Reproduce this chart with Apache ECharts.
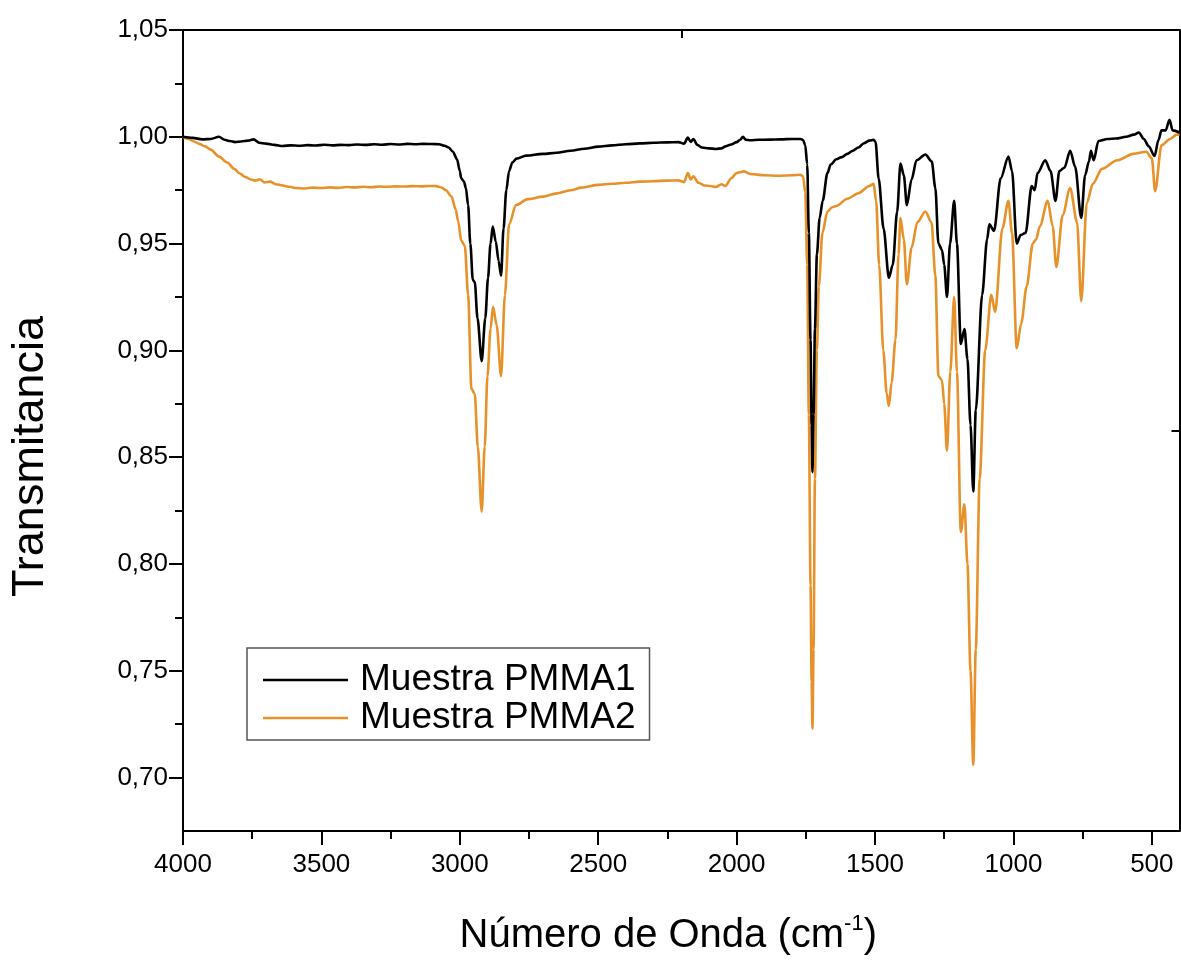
<!DOCTYPE html>
<html>
<head>
<meta charset="utf-8">
<script src="https://cdn.jsdelivr.net/npm/echarts@6/dist/echarts.min.js"></script>
<style>
  html, body { margin: 0; padding: 0; background: #ffffff; }
  #chart { width: 1181px; height: 964px; }
</style>
</head>
<body>
<div id="chart"></div>
<script>
// FTIR spectra of two PMMA samples (wavenumber in cm^-1, transmittance)
const seriesNames = ['Muestra PMMA1', 'Muestra PMMA2'];

const pmma1Wn = [4000,3965,3930,3900,3870,3850,3830,3812,3790,3765,3745,3725,3700,3670,3640,3610,3580,3550,3520,3490,3460,3430,3400,3370,3340,3310,3280,3250,3220,3190,3160,3130,3100,3075,3055,3040,3025,3010,3000,2995,2985,2978,2970,2962,2953,2946,2936,2921,2908,2898,2889,2881,2870,2860,2851,2842,2832,2822,2810,2795,2760,2700,2650,2600,2550,2500,2450,2400,2350,2300,2250,2210,2190,2176,2166,2156,2142,2125,2100,2075,2055,2040,2020,2000,1987,1977,1967,1950,1920,1880,1840,1800,1770,1760,1752,1745,1739,1733,1729,1726,1722,1717,1710,1700,1689,1672,1660,1640,1620,1600,1580,1560,1540,1520,1505,1498,1487,1469,1450,1436,1420,1408,1396,1385,1368,1350,1318,1295,1282,1271,1258,1250,1240,1229,1214,1204,1190,1177,1166,1155,1145,1136,1113,1095,1087,1070,1046,1018,1005,988,974,956,934,923,913,885,866,848,834,816,795,777,755,741,727,720,710,693,660,630,593,565,547,529,511,490,476,465,450,436,425,400];
const pmma1T = [1.0000,0.9995,0.9988,0.9990,1.0000,0.9986,0.9980,0.9975,0.9978,0.9982,0.9988,0.9972,0.9968,0.9962,0.9957,0.9960,0.9958,0.9961,0.9959,0.9963,0.9960,0.9962,0.9961,0.9964,0.9962,0.9965,0.9963,0.9966,0.9964,0.9967,0.9965,0.9967,0.9966,0.9965,0.9958,0.9950,0.9930,0.9895,0.9840,0.9806,0.9790,0.9760,0.9680,0.9500,0.9330,0.9320,0.9150,0.8950,0.9150,0.9340,0.9500,0.9580,0.9510,0.9420,0.9350,0.9570,0.9750,0.9840,0.9880,0.9898,0.9912,0.9920,0.9925,0.9935,0.9944,0.9954,0.9960,0.9965,0.9969,0.9972,0.9974,0.9975,0.9968,0.9996,0.9976,0.9990,0.9962,0.9950,0.9946,0.9943,0.9946,0.9955,0.9964,0.9975,0.9986,1.0000,0.9986,0.9984,0.9986,0.9987,0.9988,0.9990,0.9990,0.9985,0.9960,0.9870,0.9550,0.9050,0.8650,0.8430,0.8700,0.9100,0.9450,0.9620,0.9700,0.9830,0.9870,0.9895,0.9905,0.9920,0.9935,0.9950,0.9970,0.9982,0.9986,0.9975,0.9806,0.9570,0.9340,0.9400,0.9650,0.9875,0.9820,0.9680,0.9800,0.9890,0.9917,0.9884,0.9760,0.9500,0.9470,0.9400,0.9250,0.9500,0.9700,0.9500,0.9030,0.9100,0.8960,0.8650,0.8340,0.8720,0.9260,0.9520,0.9590,0.9560,0.9806,0.9907,0.9840,0.9500,0.9540,0.9550,0.9770,0.9750,0.9830,0.9890,0.9840,0.9700,0.9840,0.9855,0.9935,0.9860,0.9620,0.9820,0.9885,0.9935,0.9890,0.9980,0.9990,0.9992,1.0000,1.0010,1.0020,0.9990,0.9955,0.9910,0.9985,1.0030,1.0030,1.0080,1.0030,1.0020];

const pmma2Wn = [4000,3980,3960,3940,3920,3900,3870,3840,3815,3795,3775,3755,3740,3722,3705,3685,3665,3640,3615,3590,3560,3530,3500,3470,3440,3410,3380,3350,3320,3290,3260,3230,3200,3170,3140,3110,3085,3065,3050,3030,3015,3006,2995,2982,2970,2958,2946,2935,2921,2910,2900,2889,2880,2867,2851,2837,2822,2797,2754,2700,2650,2600,2560,2500,2450,2400,2350,2300,2250,2210,2190,2176,2166,2156,2138,2115,2095,2075,2055,2040,2020,2000,1985,1975,1950,1900,1850,1800,1770,1760,1752,1745,1739,1733,1729,1726,1722,1717,1710,1703,1690,1672,1655,1640,1600,1560,1520,1505,1496,1485,1470,1458,1450,1440,1426,1415,1408,1396,1385,1368,1347,1318,1296,1282,1271,1258,1250,1240,1228,1214,1204,1190,1177,1166,1155,1145,1136,1122,1102,1080,1066,1040,1018,1005,988,972,952,930,918,905,876,858,845,822,795,770,755,735,713,680,625,567,520,500,488,465,434,410,400];
const pmma2T = [1.0000,0.9990,0.9978,0.9966,0.9955,0.9940,0.9907,0.9880,0.9850,0.9828,0.9812,0.9800,0.9795,0.9801,0.9786,0.9790,0.9778,0.9772,0.9766,0.9760,0.9758,0.9762,0.9760,0.9763,0.9761,0.9765,0.9763,0.9766,0.9764,0.9767,0.9766,0.9768,0.9767,0.9769,0.9768,0.9770,0.9769,0.9762,0.9750,0.9720,0.9660,0.9606,0.9514,0.9490,0.9260,0.8820,0.8796,0.8550,0.8245,0.8550,0.8880,0.9100,0.9204,0.9120,0.8880,0.9260,0.9590,0.9680,0.9708,0.9720,0.9735,0.9750,0.9762,0.9775,0.9780,0.9785,0.9790,0.9792,0.9795,0.9796,0.9788,0.9830,0.9800,0.9815,0.9785,0.9772,0.9770,0.9765,0.9778,0.9770,0.9805,0.9830,0.9835,0.9838,0.9826,0.9820,0.9818,0.9820,0.9822,0.9815,0.9740,0.9400,0.8700,0.7900,0.7450,0.7230,0.7600,0.8400,0.9000,0.9300,0.9550,0.9650,0.9670,0.9676,0.9710,0.9736,0.9770,0.9780,0.9700,0.9400,0.9000,0.8800,0.8740,0.8850,0.9050,0.9450,0.9620,0.9520,0.9310,0.9480,0.9600,0.9650,0.9600,0.9350,0.8880,0.8860,0.8750,0.8530,0.8900,0.9250,0.8900,0.8150,0.8280,0.8000,0.7500,0.7060,0.7600,0.8400,0.9000,0.9260,0.9180,0.9570,0.9700,0.9550,0.9010,0.9125,0.9300,0.9500,0.9520,0.9580,0.9700,0.9580,0.9390,0.9634,0.9760,0.9600,0.9230,0.9690,0.9780,0.9850,0.9890,0.9920,0.9930,0.9900,0.9745,0.9960,0.9990,1.0010,1.0010];

// Axis ticks
const xMajorTicks = [4000, 3500, 3000, 2500, 2000, 1500, 1000, 500];
const xMinorTicks = [3750, 3250, 2750, 2250, 1750, 1250, 750];
const yMajorTicks = [0.70, 0.75, 0.80, 0.85, 0.90, 0.95, 1.00, 1.05];
const yMinorTicks = [0.725, 0.775, 0.825, 0.875, 0.925, 0.975, 1.025];
const topTicks = [2200];
const rightTicks = [0.8625];

const lineColors = ['#000000', '#E8912A'];
const font = '"Liberation Sans", Arial, sans-serif';

function pairs(wn, t) {
  return wn.map((w, i) => [w, t[i]]);
}

const X_MIN = 400, X_MAX = 4000, Y_MIN = 0.675, Y_MAX = 1.05;

const chart = echarts.init(document.getElementById('chart'), null, { renderer: 'canvas' });

const baseX = {
  type: 'value', min: X_MIN, max: X_MAX, inverse: true,
  splitLine: { show: false }
};
const baseY = {
  type: 'value', min: Y_MIN, max: Y_MAX,
  splitLine: { show: false }
};
const axisLine = { show: true, onZero: false, lineStyle: { color: '#000', width: 2 } };
const tickStyle = { color: '#000', width: 2 };

chart.setOption({
  animation: false,
  backgroundColor: '#ffffff',
  grid: { left: 181.5, right: 1.5, top: 30, bottom: 123, containLabel: false },
  xAxis: [
    Object.assign({}, baseX, {
      position: 'bottom',
      axisLine: axisLine,
      axisTick: { show: true, inside: false, length: 14, customValues: xMajorTicks, lineStyle: tickStyle },
      axisLabel: { show: true, customValues: xMajorTicks, margin: 21,
                   color: '#000', fontSize: 26, fontFamily: font,
                   formatter: v => String(Math.round(v)) },
      name: 'Número de Onda (cm{sup|-1})',
      nameLocation: 'middle',
      nameGap: 82,
      nameTextStyle: {
        color: '#000', fontSize: 40, fontFamily: font, lineHeight: 46,
        padding: [0, 26, 0, 0],
        rich: { sup: { fontSize: 22, fontFamily: font, color: '#000', verticalAlign: 'top', lineHeight: 22 } }
      }
    }),
    Object.assign({}, baseX, {
      position: 'bottom',
      axisLine: { show: false },
      axisTick: { show: true, inside: false, length: 8, customValues: xMinorTicks, lineStyle: tickStyle },
      axisLabel: { show: false }
    }),
    Object.assign({}, baseX, {
      position: 'top',
      axisLine: axisLine,
      axisTick: { show: true, inside: true, length: 8, customValues: topTicks, lineStyle: tickStyle },
      axisLabel: { show: false }
    })
  ],
  yAxis: [
    Object.assign({}, baseY, {
      position: 'left',
      axisLine: axisLine,
      axisTick: { show: true, inside: false, length: 14, customValues: yMajorTicks, lineStyle: tickStyle },
      axisLabel: { show: true, customValues: yMajorTicks, margin: 15,
                   color: '#000', fontSize: 26, fontFamily: font,
                   formatter: v => v.toFixed(2).replace('.', ',') },
      name: 'Transmitancia',
      nameLocation: 'middle',
      nameGap: 130,
      nameTextStyle: { color: '#000', fontSize: 45, fontFamily: font, padding: [0, 52, 0, 0] }
    }),
    Object.assign({}, baseY, {
      position: 'left',
      axisLine: { show: false },
      axisTick: { show: true, inside: false, length: 8, customValues: yMinorTicks, lineStyle: tickStyle },
      axisLabel: { show: false }
    }),
    Object.assign({}, baseY, {
      position: 'right',
      axisLine: axisLine,
      axisTick: { show: true, inside: true, length: 8, customValues: rightTicks, lineStyle: tickStyle },
      axisLabel: { show: false }
    })
  ],
  legend: {
    show: true,
    orient: 'vertical',
    left: 247, top: 648,
    data: seriesNames,
    icon: 'rect',
    itemWidth: 85, itemHeight: 2.5,
    itemGap: 0,
    padding: [13, 14, 3, 16],
    borderColor: '#555555', borderWidth: 1.5,
    backgroundColor: '#ffffff',
    textStyle: { color: '#000', fontSize: 37, fontFamily: font, lineHeight: 38, padding: [0, 0, 0, 7] }
  },
  series: [
    {
      name: seriesNames[0], type: 'line', xAxisIndex: 0, yAxisIndex: 0,
      data: pairs(pmma1Wn, pmma1T),
      symbol: 'none', smooth: 0.3, smoothMonotone: 'x',
      lineStyle: { color: lineColors[0], width: 2.6 },
      itemStyle: { color: lineColors[0] },
      z: 3
    },
    {
      name: seriesNames[1], type: 'line', xAxisIndex: 0, yAxisIndex: 0,
      data: pairs(pmma2Wn, pmma2T),
      symbol: 'none', smooth: 0.3, smoothMonotone: 'x',
      lineStyle: { color: lineColors[1], width: 2.6 },
      itemStyle: { color: lineColors[1] },
      z: 2
    }
  ]
});
</script>
</body>
</html>
